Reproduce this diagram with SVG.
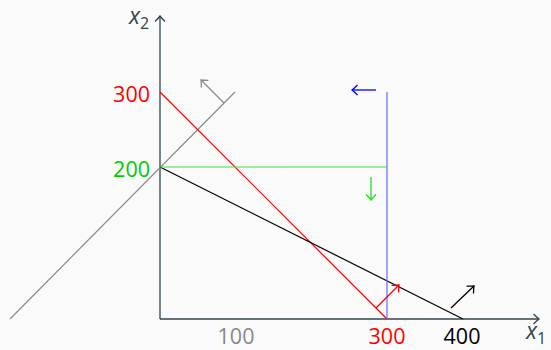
<svg xmlns="http://www.w3.org/2000/svg" width="551" height="350" viewBox="0 0 551 350">
<style>
.t{font-family:"Open Sans","Noto Sans",sans-serif;font-size:21.5px}
.ax{stroke:#34444c;stroke-width:1.3;fill:none}
.ln{fill:none;stroke-width:1.2}
.ar{fill:none;stroke-width:1.3}
</style>
<defs>
<marker id="ma" markerWidth="12" markerHeight="12" refX="7" refY="6" orient="auto" markerUnits="userSpaceOnUse">
<path d="M1.5,1 Q5,4.5 7,6 Q5,7.5 1.5,11" fill="none" stroke="context-stroke" stroke-width="1.3"/>
</marker>
</defs>
<rect width="551" height="350" fill="#fafafa"/>
<g id="axes">
<line class="ax" x1="160" y1="319" x2="539" y2="319" marker-end="url(#ma)"/>
<line class="ax" x1="160" y1="319" x2="160" y2="16" marker-end="url(#ma)"/>
<text x="129" y="24" fill="#34444c" font-family="Open Sans,sans-serif" font-size="23" font-style="italic">x</text>
<text x="140" y="29" fill="#34444c" font-family="Open Sans,sans-serif" font-size="16">2</text>
<text x="526" y="339" fill="#34444c" font-family="Open Sans,sans-serif" font-size="23" font-style="italic">x</text>
<text x="537" y="344" fill="#34444c" font-family="Open Sans,sans-serif" font-size="16">1</text>
</g>
<g id="connectors">
<line class="ln" x1="10" y1="319" x2="235" y2="92" stroke="#8a8a8a"/>
<line class="ln" x1="160" y1="92" x2="387" y2="319" stroke="#ff0000"/>
<line class="ln" x1="160" y1="167" x2="463" y2="319" stroke="#000"/>
<line class="ln" x1="387" y1="92" x2="387" y2="319" stroke="#6a6aff" stroke-width="1.6"/>
<line class="ln" x1="160" y1="167" x2="387" y2="167" stroke="#44dd44"/>
<line class="ar" x1="224" y1="103" x2="201" y2="80" stroke="#8a8a8a" marker-end="url(#ma)"/>
<line class="ar" x1="376" y1="90" x2="352" y2="90" stroke="#0000ff" marker-end="url(#ma)"/>
<line class="ar" x1="371" y1="177" x2="371" y2="200" stroke="#22dd22" marker-end="url(#ma)"/>
<line class="ar" x1="376" y1="308" x2="399" y2="285" stroke="#ff0000" marker-end="url(#ma)"/>
<line class="ar" x1="451" y1="308" x2="474" y2="286" stroke="#000" marker-end="url(#ma)"/>
</g>
<g id="labels">
<text class="t" x="150" y="102" fill="#ff0000" text-anchor="end">300</text>
<text class="t" x="150" y="177" fill="#00cc00" text-anchor="end">200</text>
<text class="t" x="236" y="344" fill="#888888" text-anchor="middle">100</text>
<text class="t" x="387" y="344" fill="#ff0000" text-anchor="middle">300</text>
<text class="t" x="462" y="344" fill="#000" text-anchor="middle">400</text>
</g>
</svg>
